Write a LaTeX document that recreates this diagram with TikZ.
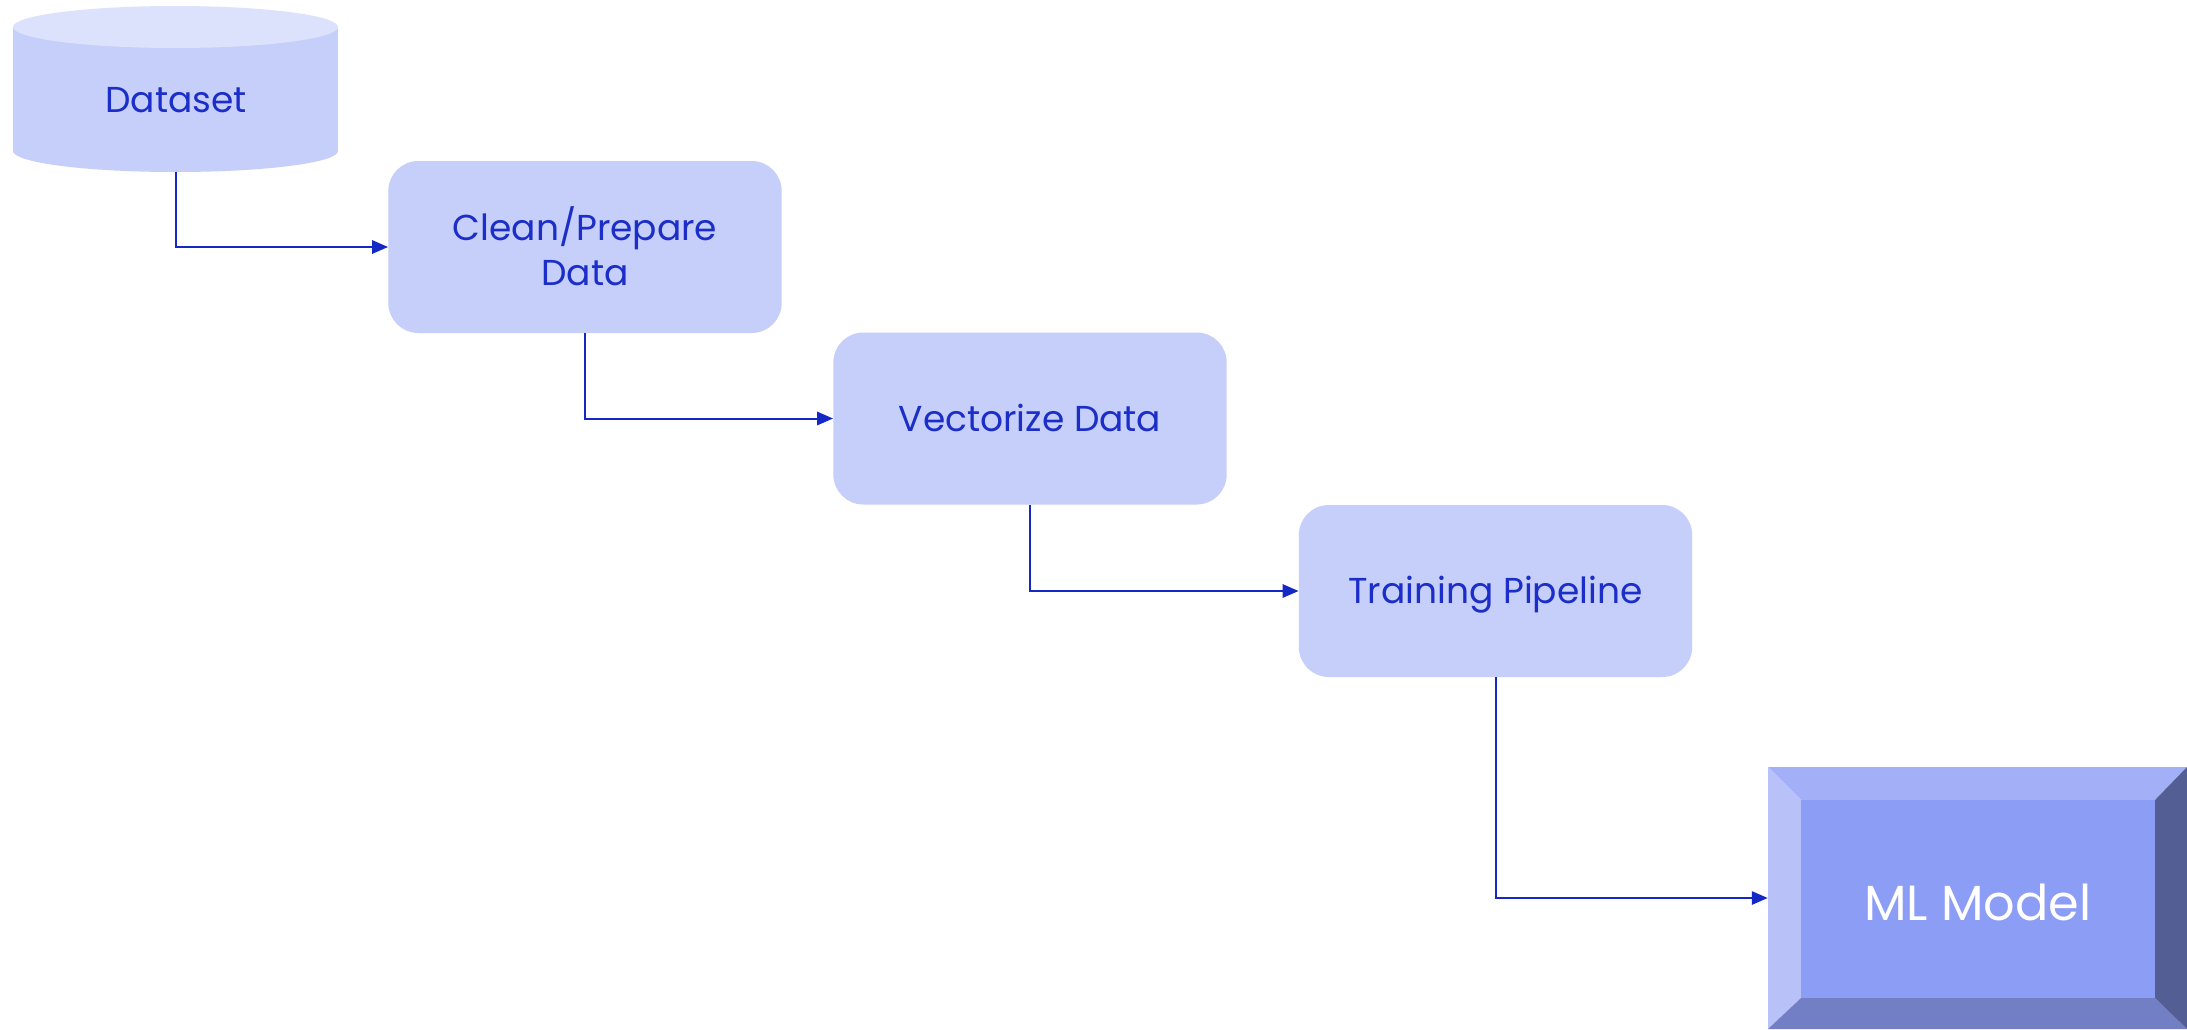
\documentclass[tikz,border=0pt]{standalone}
\usepackage{fontspec}
\setmainfont{Poppins}
\usetikzlibrary{arrows.meta}
\definecolor{boxfill}{RGB}{198,206,250}
\definecolor{topfill}{RGB}{221,226,252}
\definecolor{txtblue}{RGB}{28,46,200}
\definecolor{linkblue}{RGB}{20,40,198}
\definecolor{mlcenter}{RGB}{140,157,245}
\definecolor{mltop}{RGB}{163,175,247}
\definecolor{mlleft}{RGB}{184,194,249}
\definecolor{mlbottom}{RGB}{114,127,196}
\definecolor{mlright}{RGB}{82,94,148}
\tikzset{
  stepbox/.style={rectangle, rounded corners=22.5pt, fill=boxfill, text=txtblue,
    minimum width=295pt, minimum height=129pt, align=center,
    font=\fontsize{27}{34}\selectfont, inner sep=0pt},
  oneline/.style={text height=19pt, text depth=0pt},
  conn/.style={draw=linkblue, line width=1.5pt, -{Triangle[length=12pt,width=10pt]}},
}
\begin{document}
\begin{tikzpicture}[x=0.75pt,y=-0.75pt]
\useasboundingbox (0,0) rectangle (2187,1029);
\fill[white] (0,0) rectangle (2187,1029);
% cylinder
\fill[boxfill] (13,27) rectangle (338,151);
\fill[boxfill] (175.5,151) ellipse [x radius=121.875pt, y radius=15.75pt];
\fill[topfill] (175.5,27) ellipse [x radius=121.875pt, y radius=15.75pt];
\node[rectangle, minimum width=243.75pt, minimum height=124.5pt, inner sep=0pt] (ds) at (175.5,89) {};
\node[text=txtblue, font=\fontsize{27}{34}\selectfont, inner sep=0pt, oneline] (dslabel) at (176,100) {Dataset};
% steps
\node[stepbox] (clean) at (585,247) {\raisebox{1pt}{Clean/Prepare}\\\raisebox{1pt}{Data}};
\node[stepbox, oneline] (vec) at (1030,418.5) {Vectorize Data};
\node[stepbox, oneline] (train) at (1495.5,591) {Training Pipeline};
% ML model bevel box
\fill[mltop] (1768,767) -- (2187,767) -- (2155,800) -- (1801,800) -- cycle;
\fill[mlleft] (1768,767) -- (1801,800) -- (1801,998) -- (1768,1029) -- cycle;
\fill[mlbottom] (1768,1029) -- (1801,998) -- (2155,998) -- (2187,1029) -- cycle;
\fill[mlright] (2187,767) -- (2155,800) -- (2155,998) -- (2187,1029) -- cycle;
\fill[mlcenter] (1801,800) rectangle (2155,998);
\node[rectangle, minimum width=314.25pt, minimum height=196.5pt, inner sep=0pt] (ml) at (1977.5,898) {};
\node[text=white, font=\fontsize{37}{44}\selectfont, inner sep=0pt] (mllabel) at (1978,902) {ML Model};
% connectors
\draw[conn] (ds.south) |- (clean.west);
\draw[conn] (clean.south) |- (vec.west);
\draw[conn] (vec.south) |- (train.west);
\draw[conn] (train.south) |- (ml.west);
\end{tikzpicture}
\end{document}
